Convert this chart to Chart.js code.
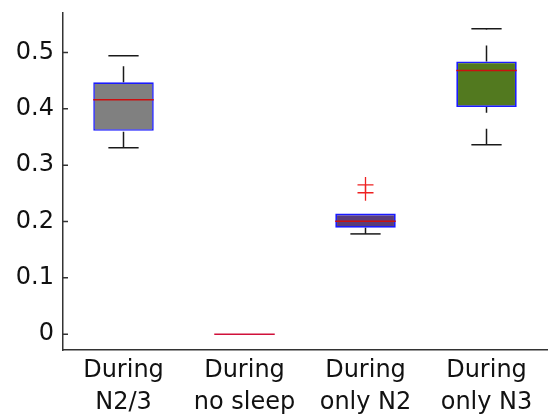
<!DOCTYPE html>
<html>
<head>
<meta charset="utf-8">
<script src="https://cdn.jsdelivr.net/npm/chart.js@4.4.1/dist/chart.umd.min.js"></script>
<style>
  html, body { margin: 0; padding: 0; background: #fff; }
</style>
</head>
<body>
<canvas id="boxChart" width="549" height="415"></canvas>
<script>
// box plot values
const categories = [['During', 'N2/3'], ['During', 'no sleep'], ['During', 'only N2'], ['During', 'only N3']];
const lowerWhisker = [0.331, 0, 0.178, 0.336];
const q1 = [0.361, 0, 0.189, 0.403];
const median = [0.416, 0, 0.2005, 0.468];
const q3 = [0.447, 0, 0.214, 0.484];
const upperWhisker = [0.494, 0, 0.214, 0.542];
const outliersHigh = [null, null, 0.265, null];
const outliersLow = [null, null, 0.251, null];
const yTicks = [0, 0.1, 0.2, 0.3, 0.4, 0.5];

const boxColors = ['#808080', '#808080', '#5a3d78', '#52791f'];

// whiskers, caps, medians and inward ticks
const boxExtras = {
    id: 'boxExtras',
    afterDatasetsDraw(chart) {
        const ctx = chart.ctx;
        const x = chart.scales.x;
        const y = chart.scales.y;
        const meta = chart.getDatasetMeta(0);
        ctx.save();
        categories.forEach((c, i) => {
            const cx = x.getPixelForValue(i);
            const bw = meta.data[i].width;
            const capHalf = bw / 4;
            if (upperWhisker[i] !== lowerWhisker[i]) {
                ctx.strokeStyle = '#1a1a1a';
                ctx.lineWidth = 1.5;
                ctx.setLineDash([16, 16]);
                ctx.beginPath();
                ctx.moveTo(cx, y.getPixelForValue(q3[i]));
                ctx.lineTo(cx, y.getPixelForValue(upperWhisker[i]));
                ctx.moveTo(cx, y.getPixelForValue(lowerWhisker[i]));
                ctx.lineTo(cx, y.getPixelForValue(q1[i]));
                ctx.stroke();
                ctx.setLineDash([]);
                ctx.beginPath();
                [upperWhisker[i], lowerWhisker[i]].forEach(v => {
                    if (v === q3[i]) return;
                    const py = y.getPixelForValue(v);
                    ctx.moveTo(cx - capHalf, py);
                    ctx.lineTo(cx + capHalf, py);
                });
                ctx.stroke();
            }
            ctx.strokeStyle = i === 1 ? '#d0103a' : '#cc1010';
            ctx.lineWidth = 1.5;
            ctx.beginPath();
            const my = y.getPixelForValue(median[i]);
            ctx.moveTo(cx - bw / 2, my);
            ctx.lineTo(cx + bw / 2, my);
            ctx.stroke();
        });
        // inward y ticks
        ctx.strokeStyle = '#333';
        ctx.lineWidth = 1.5;
        ctx.beginPath();
        y.ticks.forEach(t => {
            const py = y.getPixelForValue(t.value);
            ctx.moveTo(y.right, py);
            ctx.lineTo(y.right + 5, py);
        });
        ctx.stroke();
        ctx.restore();
    }
};

const outlierStyle = {
    type: 'line',
    showLine: false,
    pointStyle: 'cross',
    pointRadius: c => (c.raw == null ? 0 : 8),
    pointBorderColor: '#ee2020',
    pointBorderWidth: 1.3,
    pointBackgroundColor: '#ee2020'
};

const ctx = document.getElementById('boxChart').getContext('2d');
new Chart(ctx, {
    type: 'bar',
    data: {
        labels: categories,
        datasets: [{
            label: 'IQR',
            data: q1.map((v, i) => [v, q3[i]]),
            backgroundColor: boxColors,
            borderColor: '#1a1aff',
            borderWidth: [1.6, 0, 1.8, 1.8],
            borderSkipped: false,
            barPercentage: 0.5,
            categoryPercentage: 1
        },
        { ...outlierStyle, label: 'Outliers', data: outliersHigh },
        { ...outlierStyle, label: 'Outliers', data: outliersLow }]
    },
    options: {
        responsive: false,
        animation: false,
        layout: { padding: { top: 13, right: 2, left: 0, bottom: 0 } },
        plugins: { legend: { display: false }, tooltip: { enabled: false } },
        scales: {
            x: {
                type: 'category',
                offset: true,
                grid: { display: false, drawTicks: false },
                border: { display: true, color: '#333', width: 1.5 },
                ticks: {
                    autoSkip: false,
                    maxRotation: 0,
                    padding: 5,
                    color: '#111',
                    font: { family: 'DejaVu Sans', size: 24, lineHeight: 1.32 }
                },
                afterFit: s => {
                    s.height = 65;
                    s.paddingLeft = 0;
                    s.paddingRight = 0;
                }
            },
            y: {
                min: -0.028,
                max: 0.57,
                grid: { display: false, drawTicks: false },
                border: { display: true, color: '#333', width: 1.5 },
                afterBuildTicks: s => { s.ticks = yTicks.map(v => ({ value: v })); },
                ticks: {
                    padding: 9,
                    color: '#111',
                    font: { family: 'DejaVu Sans', size: 24 },
                    callback: v => String(Math.round(v * 10) / 10)
                },
                afterFit: s => {
                    s.width = 63;
                    s.paddingTop = 0;
                    s.paddingBottom = 0;
                }
            }
        }
    },
    plugins: [boxExtras]
});
</script>
</body>
</html>
